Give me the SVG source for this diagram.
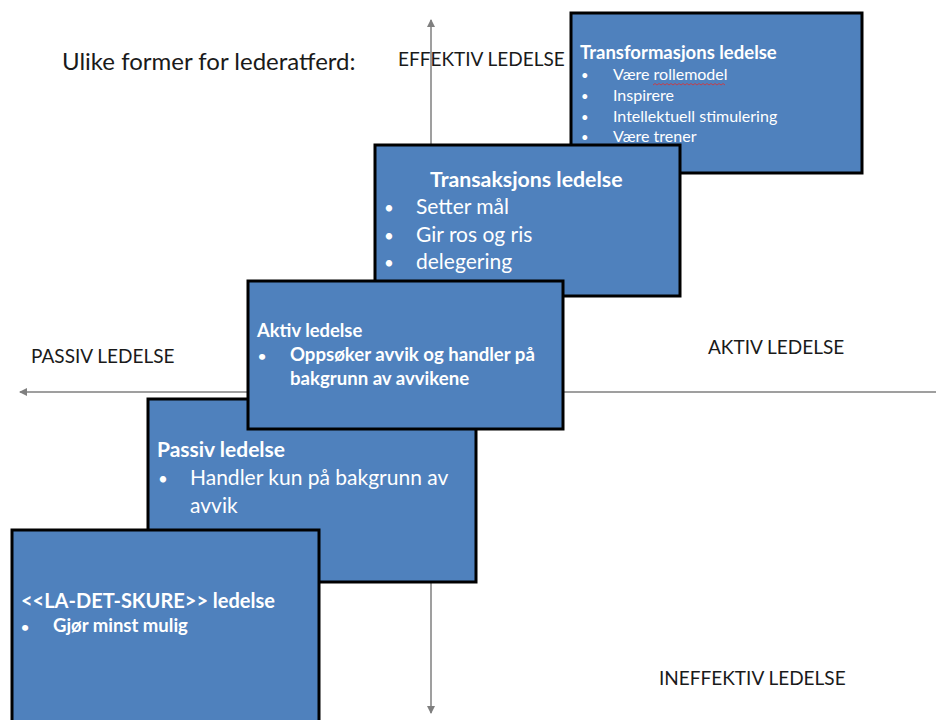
<svg xmlns="http://www.w3.org/2000/svg" width="936" height="720" viewBox="0 0 936 720">
<style>
.box{fill:#4F81BD;stroke:#000;stroke-width:3}
.ax{stroke:#7f7f7f;stroke-width:1.5;fill:none}
.lbl{font-family:Lato,"Liberation Sans",sans-serif;font-size:19px;fill:#1a1a1a}
.t{font-family:Lato,"Liberation Sans",sans-serif;fill:#fff}
.b{font-weight:bold}
</style>
<defs>
<marker id="ah" markerWidth="8" markerHeight="8" refX="7" refY="4" orient="auto-start-reverse" markerUnits="userSpaceOnUse">
<path d="M0,0 L8,4 L0,8 Z" fill="#7f7f7f"/>
</marker>
</defs>
<rect width="936" height="720" fill="#fff"/>
<g id="connectors">
<line class="ax" x1="431" y1="20" x2="431" y2="713" marker-start="url(#ah)" marker-end="url(#ah)"/>
<line class="ax" x1="936" y1="392" x2="20" y2="392" marker-end="url(#ah)"/>
</g>
<text class="lbl" x="62" y="70" style="font-size:24px">Ulike former for lederatferd:</text>
<text class="lbl" x="398" y="66">EFFEKTIV LEDELSE</text>
<text class="lbl" x="31" y="363">PASSIV LEDELSE</text>
<text class="lbl" x="708" y="354">AKTIV LEDELSE</text>
<text class="lbl" x="659" y="685">INEFFEKTIV LEDELSE</text>
<g id="transformasjon">
<rect class="box" x="571" y="13" width="291" height="160"/>
<text class="t b" x="580" y="59" font-size="18.5">Transformasjons ledelse</text>
<g class="t" font-size="16">
<text x="581" y="80" font-size="13">•</text><text x="613" y="80">Være rollemodel</text>
<text x="581" y="101" font-size="13">•</text><text x="613" y="101">Inspirere</text>
<text x="581" y="122" font-size="13">•</text><text x="613" y="122">Intellektuell stimulering</text>
<text x="581" y="142" font-size="13">•</text><text x="613" y="142">Være trener</text>
</g>
<path d="M653,85 l2,-1.5 l2,1.5 l2,-1.5 l2,1.5 l2,-1.5 l2,1.5 l2,-1.5 l2,1.5 l2,-1.5 l2,1.5 l2,-1.5 l2,1.5 l2,-1.5 l2,1.5 l2,-1.5 l2,1.5 l2,-1.5 l2,1.5 l2,-1.5 l2,1.5 l2,-1.5 l2,1.5 l2,-1.5 l2,1.5 l2,-1.5 l2,1.5 l2,-1.5 l2,1.5 l2,-1.5 l2,1.5 l2,-1.5 l2,1.5 l2,-1.5 l2,1.5 l2,-1.5 l2,1.5" fill="none" stroke="#e03030" stroke-width="0.8"/>
</g>
<g id="transaksjon">
<rect class="box" x="375" y="145" width="305" height="151"/>
<text class="t b" x="430" y="187" font-size="21.3">Transaksjons ledelse</text>
<g class="t" font-size="21">
<text x="384" y="214" font-size="17">•</text><text x="416" y="214">Setter mål</text>
<text x="384" y="242" font-size="17">•</text><text x="416" y="242">Gir ros og ris</text>
<text x="384" y="269" font-size="17">•</text><text x="416" y="269">delegering</text>
</g>
</g>
<g id="passiv">
<rect class="box" x="148" y="399" width="328" height="183"/>
<text class="t b" x="157" y="457" font-size="21">Passiv ledelse</text>
<g class="t" font-size="21">
<text x="158" y="485" font-size="17">•</text><text x="190" y="485">Handler kun på bakgrunn av</text>
<text x="190" y="513">avvik</text>
</g>
</g>
<g id="aktiv">
<rect class="box" x="248" y="281" width="315" height="148"/>
<text class="t b" x="257" y="337" font-size="18.4">Aktiv ledelse</text>
<g class="t b" font-size="18.6">
<text x="258" y="361" font-size="14">•</text><text x="290" y="361">Oppsøker avvik og handler på</text>
<text x="290" y="385">bakgrunn av avvikene</text>
</g>
</g>
<g id="la-det-skure">
<rect class="box" x="12" y="530" width="307" height="200"/>
<text class="t b" x="21" y="608" font-size="20">&lt;&lt;LA-DET-SKURE&gt;&gt; ledelse</text>
<g class="t b" font-size="18.5">
<text x="21" y="632" font-size="14">•</text><text x="53" y="632">Gjør minst mulig</text>
</g>
</g>
</svg>
